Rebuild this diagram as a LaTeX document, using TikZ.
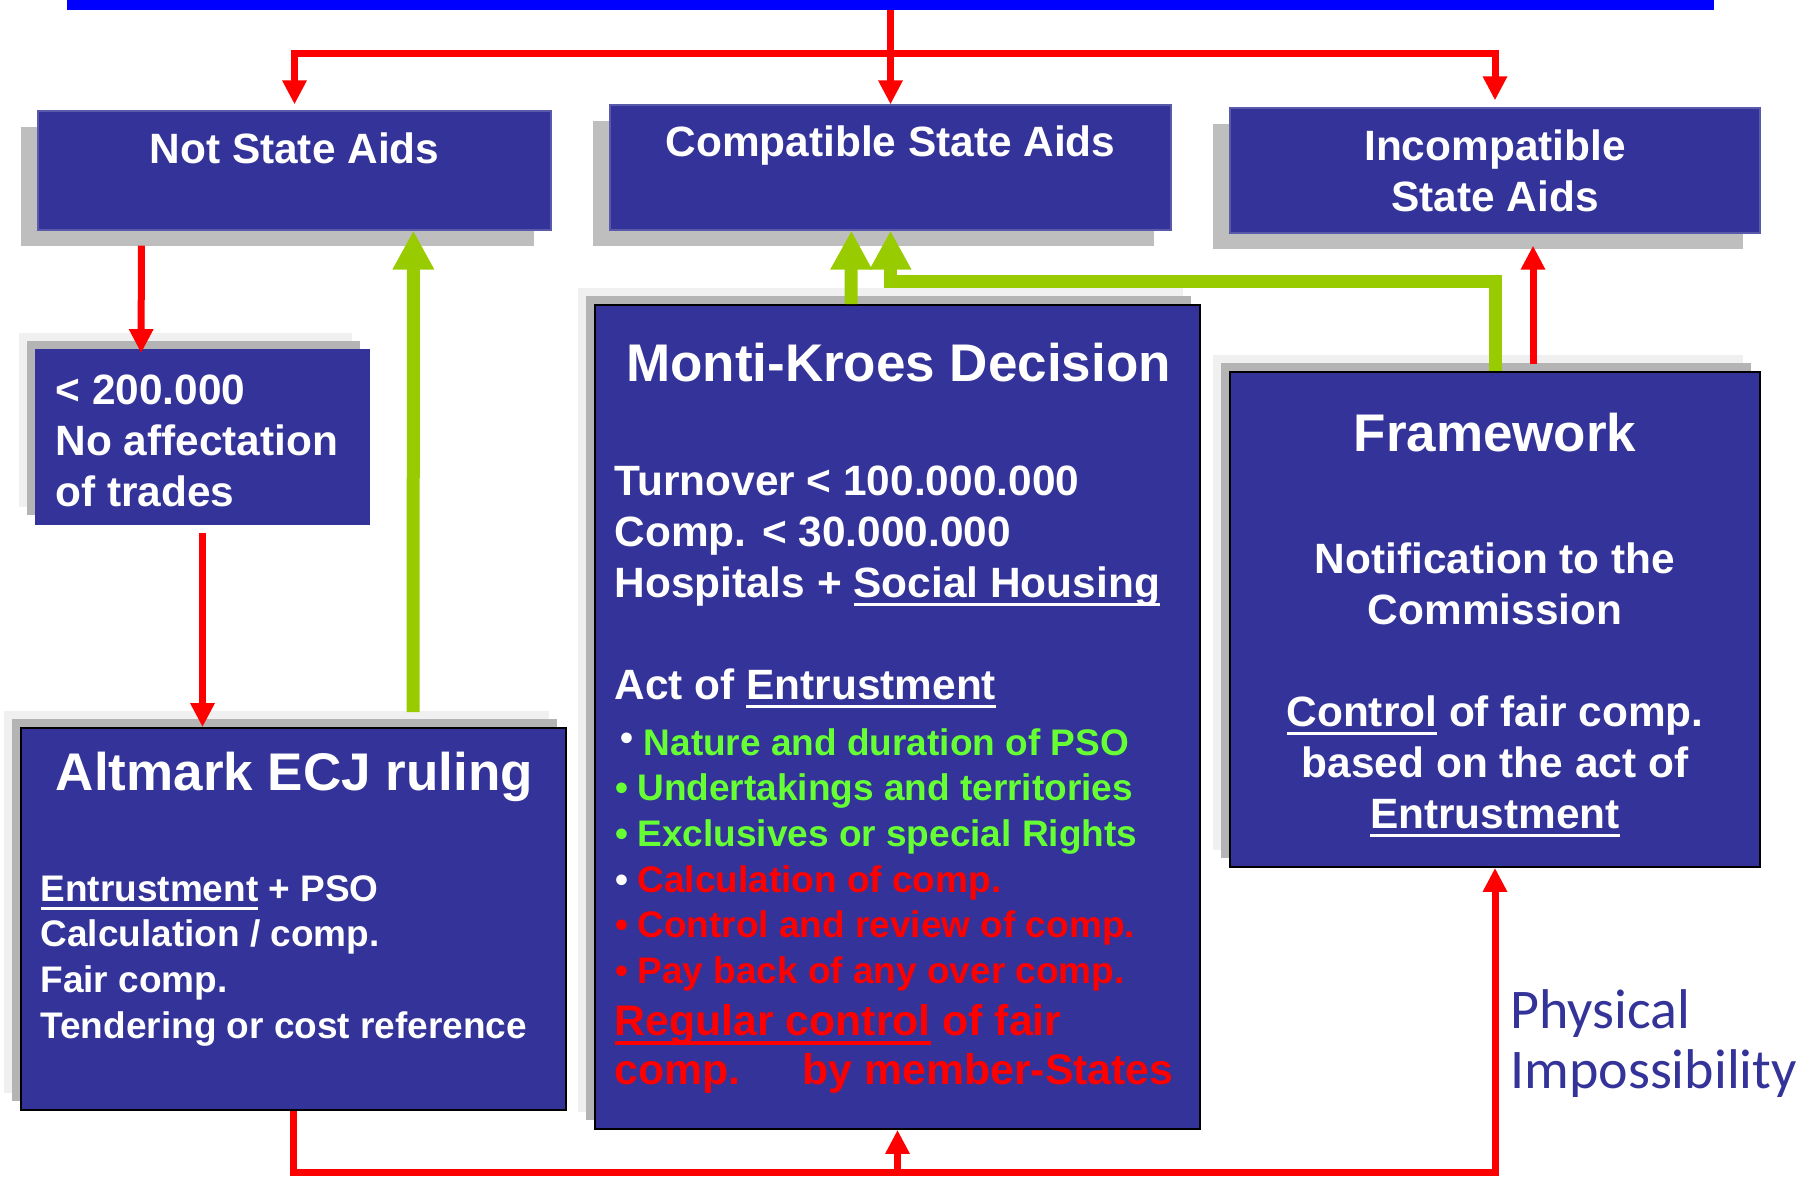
\documentclass[tikz,border=0pt]{standalone}
\usepackage{fontspec}
\setmainfont{Liberation Sans}
\newfontfamily\physfont{Carlito}
\usetikzlibrary{arrows.meta, shadows, calc}
\definecolor{boxblue}{RGB}{51,51,153}
\definecolor{boxedge}{RGB}{90,90,170}
\definecolor{barblue}{RGB}{0,0,255}
\definecolor{linegreen}{RGB}{153,204,0}
\definecolor{textgreen}{RGB}{102,255,51}
\definecolor{shadegray}{RGB}{190,190,190}
\definecolor{darkshade}{RGB}{180,180,180}
\definecolor{lightshade}{RGB}{240,240,240}
\newsavebox\undlbox
\newcommand\undl[1]{\sbox\undlbox{#1}\rlap{\rule[-4.5pt]{\wd\undlbox}{1.6pt}}\usebox\undlbox}
\begin{document}
\begin{tikzpicture}[x=0.5pt, y=-0.5pt,
    topbox/.style = {fill=boxblue, draw=boxedge, line width=0.6pt, inner sep=0pt,
      drop shadow={shadow xshift=-8.5pt, shadow yshift=-8pt, opacity=1, fill=shadegray}},
    lowbox/.style = {fill=boxblue, draw=black, line width=0.9pt, inner sep=0pt,
      drop shadow={shadow xshift=-8.5pt, shadow yshift=8.5pt, opacity=1, fill=lightshade},
      drop shadow={shadow xshift=-4.5pt, shadow yshift=4.5pt, opacity=1, fill=darkshade}},
    labeltext/.style = {text=white, inner sep=0pt, font=\bfseries\fontsize{21.2pt}{25.5pt}\selectfont},
    titletext/.style = {text=white, inner sep=0pt, font=\bfseries\fontsize{26.5pt}{32pt}\selectfont},
    smalltext/.style = {text=white, inner sep=0pt, font=\bfseries\fontsize{18.5pt}{22.8pt}\selectfont},
    redarrow/.style = {draw=red, line width=3.5pt, -{Triangle[length=12pt, width=11.5pt]}},
    greenarrow/.style = {draw=linegreen, line width=6.5pt, -{Triangle[length=19.5pt, width=19.5pt]}}]
  \useasboundingbox (0,0) rectangle (1816,1177);

  % boxes
  \node[fill=barblue, inner sep=0pt, minimum width=823.5pt, minimum height=5pt] (bar) at (890.5,5) {};
  \node[topbox, minimum width=256.5pt, minimum height=59.5pt] (notsa) at (294.5,170.5) {};
  \node[topbox, minimum width=280.5pt, minimum height=62.5pt] (comp) at (890.5,167.5) {};
  \node[topbox, minimum width=265pt, minimum height=62.5pt] (incomp) at (1495,170.5) {};
  \node[lowbox, draw=boxblue, minimum width=166.5pt, minimum height=87pt] (small) at (202.5,437) {};
  \node[lowbox, minimum width=272.5pt, minimum height=191pt] (alt) at (293.5,919) {};
  \node[lowbox, minimum width=302.5pt, minimum height=412pt] (monti) at (897.5,717) {};
  \node[lowbox, minimum width=265pt, minimum height=247.5pt] (fw) at (1495,619.5) {};

  % texts
  \node[labeltext, anchor=north] (notsatxt) at ([shift={(0,22)}]notsa.north) {Not State Aids};
  \node[labeltext, anchor=north] (comptxt) at ([shift={(0,21)}]comp.north) {Compatible State Aids};
  \node[labeltext, anchor=north, align=center] (incomptxt) at ([shift={(0,22)}]incomp.north) {Incompatible\\State Aids};
  \node[labeltext, anchor=north west, align=left] (smalltxt) at ([shift={(20,25)}]small.north west)
    {< 200.000\\No affectation\\of trades};
  \node[titletext, anchor=north] (alttitle) at ([shift={(1,25)}]alt.north) {Altmark ECJ ruling};
  \node[smalltext, anchor=north west, align=left] (altbody) at ([shift={(20,148)}]alt.north west)
    {\undl{Entrustment} + PSO\\Calculation / comp.\\Fair comp.\\Tendering or cost reference};
  \node[titletext, anchor=north] (montititle) at ([shift={(1,39)}]monti.north) {Monti-Kroes Decision};
  \node[labeltext, anchor=north west, align=left] (montibody) at ([shift={(20,161)}]monti.north west)
    {Turnover < 100.000.000\\Comp. < 30.000.000\\Hospitals + \undl{Social Housing}\\[25.5pt]Act of \undl{Entrustment}};
  \node[smalltext, text=textgreen, anchor=north west, align=left] (bullets) at ([shift={(21,424)}]monti.north west)
    {\kern2.5pt{\color{white}\raisebox{2.5pt}{•}} Nature and duration of PSO\\
     •\kern4.5pt Undertakings and territories\\
     •\kern4.5pt Exclusives or special Rights\\
     {\color{white}•}\kern4.5pt{\color{red}Calculation of comp.}\\
     {\color{red}•\kern4.5pt Control and review of comp.}\\
     {\color{red}•\kern4.5pt Pay back of any over comp.}};
  \node[labeltext, text=red, font=\bfseries\fontsize{21.4pt}{24.5pt}\selectfont, anchor=north west, align=left]
    (regular) at ([shift={(20,700)}]monti.north west)
    {\undl{Regular control} of fair\\comp.\hspace{31pt}by member-States};
  \node[titletext, anchor=north] (fwtitle) at ([shift={(0,42)}]fw.north) {Framework};
  \node[labeltext, anchor=north, align=center] (fwbody) at ([shift={(0,171)}]fw.north)
    {Notification to the\\Commission\\[25.5pt]\undl{Control} of fair comp.\\based on the act of\\\undl{Entrustment}};
  \node[text=boxblue, inner sep=0pt, font=\physfont\fontsize{28pt}{30pt}\selectfont, anchor=north west, align=left]
    (phys) at (1510,989) {Physical\\Impossibility};

  % connectors
  \coordinate (fork) at ([shift={(0,43)}]bar.south);
  \draw[redarrow] (bar.south) -- (comp.north);
  \draw[redarrow, shorten >=3pt] (fork) -| (notsa.north);
  \draw[redarrow, shorten >=3.5pt] (fork) -| (incomp.north);
  \draw[redarrow] ([shift={(104,15)}]notsa.south west) -- ([shift={(106,4)}]small.north west);
  \draw[redarrow] ([shift={(0,8)}]small.south) -- (small.south |- alt.north);
  \draw[greenarrow] ([shift={(393,-15)}]alt.north west) -- ([shift={(376,0)}]notsa.south west);
  \draw[greenarrow] ([shift={(257,0)}]monti.north west) -- ([shift={(242,0)}]comp.south west);
  \draw[greenarrow] (fw.north) -- ++(0,-90) -| (comp.south);
  \draw[redarrow] ([shift={(38,-7)}]fw.north) -- ([shift={(38,12)}]incomp.south);
  \draw[redarrow] (alt.south) -- ++(0,62) -| (monti.south);
  \draw[redarrow] (alt.south) -- ++(0,62) -| (fw.south);
\end{tikzpicture}
\end{document}
